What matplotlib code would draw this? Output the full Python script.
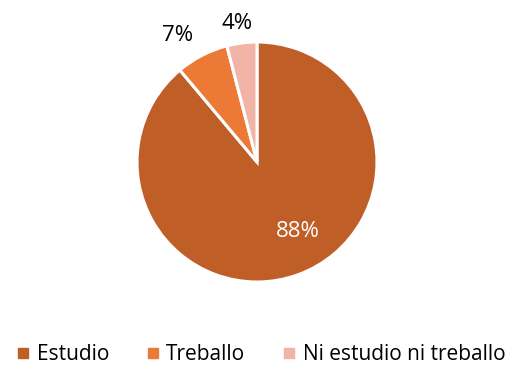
import matplotlib.pyplot as plt
import numpy as np
from matplotlib.lines import Line2D

categories = ["Estudio", "Treballo", "Ni estudio ni treballo"]
values = [88, 7, 4]
colors = ["#C05E28", "#EC7A36", "#F2B4A6"]

plt.rcParams['font.family'] = ['Open Sans', 'DejaVu Sans']

fig = plt.figure(figsize=(5.12, 3.67), dpi=100)
ax = fig.add_axes([137 / 512, 85 / 367, 240 / 512, 240 / 367])

wedges, _ = ax.pie(values, colors=colors, startangle=90, counterclock=False,
                   radius=1, wedgeprops=dict(edgecolor="white", linewidth=2.2))
ax.set_aspect("equal")
ax.set_xlim(-1, 1)
ax.set_ylim(-1, 1)

# percentage labels: big slice inside, small slices just outside
label_r = [0.676, 1.244, 1.17]
label_shift = [10.4, 5, 1]
label_color = ["white", "black", "black"]
for w, v, r, s, c in zip(wedges, values, label_r, label_shift, label_color):
    mid = np.deg2rad((w.theta1 + w.theta2) / 2 + s)
    ax.text(r * np.cos(mid), r * np.sin(mid), f"{v}%", ha="center", va="center",
            fontsize=16, color=c)

handles = [Line2D([], [], marker="s", linestyle="none", markersize=7,
                  markerfacecolor=col, markeredgecolor=col) for col in colors]
fig.legend(handles, categories, loc="center", bbox_to_anchor=(0.51, 1 - 355 / 367),
           ncol=3, frameon=False, fontsize=15, handlelength=0.6,
           handletextpad=0.35, columnspacing=1.8, borderaxespad=0)

fig.savefig("out.png", dpi=100)
